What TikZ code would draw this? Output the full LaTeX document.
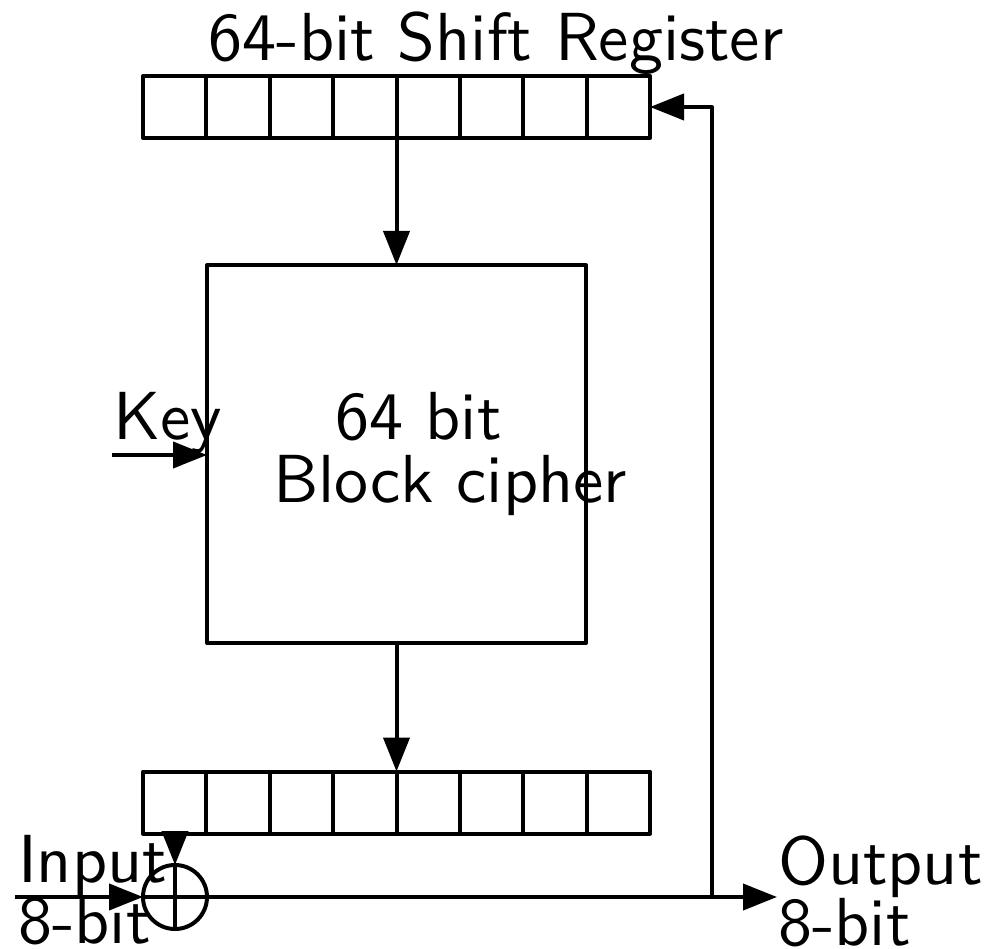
\documentclass[tikz,border=0pt]{standalone}
\usepackage{fontspec}
\setsansfont{lmsans10-regular.otf}
\usetikzlibrary{arrows.meta,calc}
\begin{document}
\begin{tikzpicture}[x=1pt,y=-1pt,
  line width=4pt, line join=round,
  every node/.style={font=\sffamily\fontsize{68}{80}\selectfont, inner sep=0pt, outer sep=0pt},
  regbox/.style={draw, minimum width=507pt, minimum height=62pt},
  cipherbox/.style={draw, minimum width=379pt, minimum height=378pt},
  xorc/.style={draw, circle, minimum size=64pt},
  arr/.style={-{Triangle[length=34pt,width=26pt]}},
  lbl/.style={anchor=base west}
]
\useasboundingbox (0,0) rectangle (986,949);
% registers
\node[regbox] (topreg) at (396.5,107) {};
\node[regbox] (botreg) at (396.5,802.5) {};
\foreach \r in {topreg,botreg}{
  \foreach \i in {1,...,7}{
    \draw ($(\r.north west)!\i/8!(\r.north east)$) -- ($(\r.south west)!\i/8!(\r.south east)$);
  }
}
\node[cipherbox] (cipher) at (396.5,454) {};
\node[xorc] (xor) at (175,897) {};
\draw (xor.north) -- (xor.south) (xor.west) -- (xor.east);
% texts
\node[anchor=base] (title) at (496,61) {64-bit Shift Register};
\node[lbl] (keyt) at (113,440) {Key};
\node[lbl] (c1) at (335,440) {64 bit};
\node[lbl] (c2) at (273,503) {Block cipher};
\node[lbl] (int) at (18,882) {Input};
\node[lbl] (inb) at (18,943) {8-bit};
\node[lbl] (outt) at (778,884) {Output};
\node[lbl] (outb) at (778,945) {8-bit};
% coordinates
\coordinate (instart) at (15,897);
\coordinate (outend) at (777,897);
\coordinate (fbbot) at (712,897);
\coordinate (fbtop) at (712,107);
\coordinate (keystart) at (112,455);
\coordinate (xorin) at (175,833);
% connectors
\draw[arr] (topreg.south) -- (cipher.north);
\draw[arr] (cipher.south) -- (botreg.north);
\draw[arr] (keystart) -- (keystart -| cipher.west);
\draw[arr] (instart) -- (xor.west);
\draw[arr] (xorin) -- (xor.north);
\draw[arr] (xor.east) -- (outend);
\draw[arr] (fbbot) -- (fbtop) -- (topreg.east);
\end{tikzpicture}
\end{document}
